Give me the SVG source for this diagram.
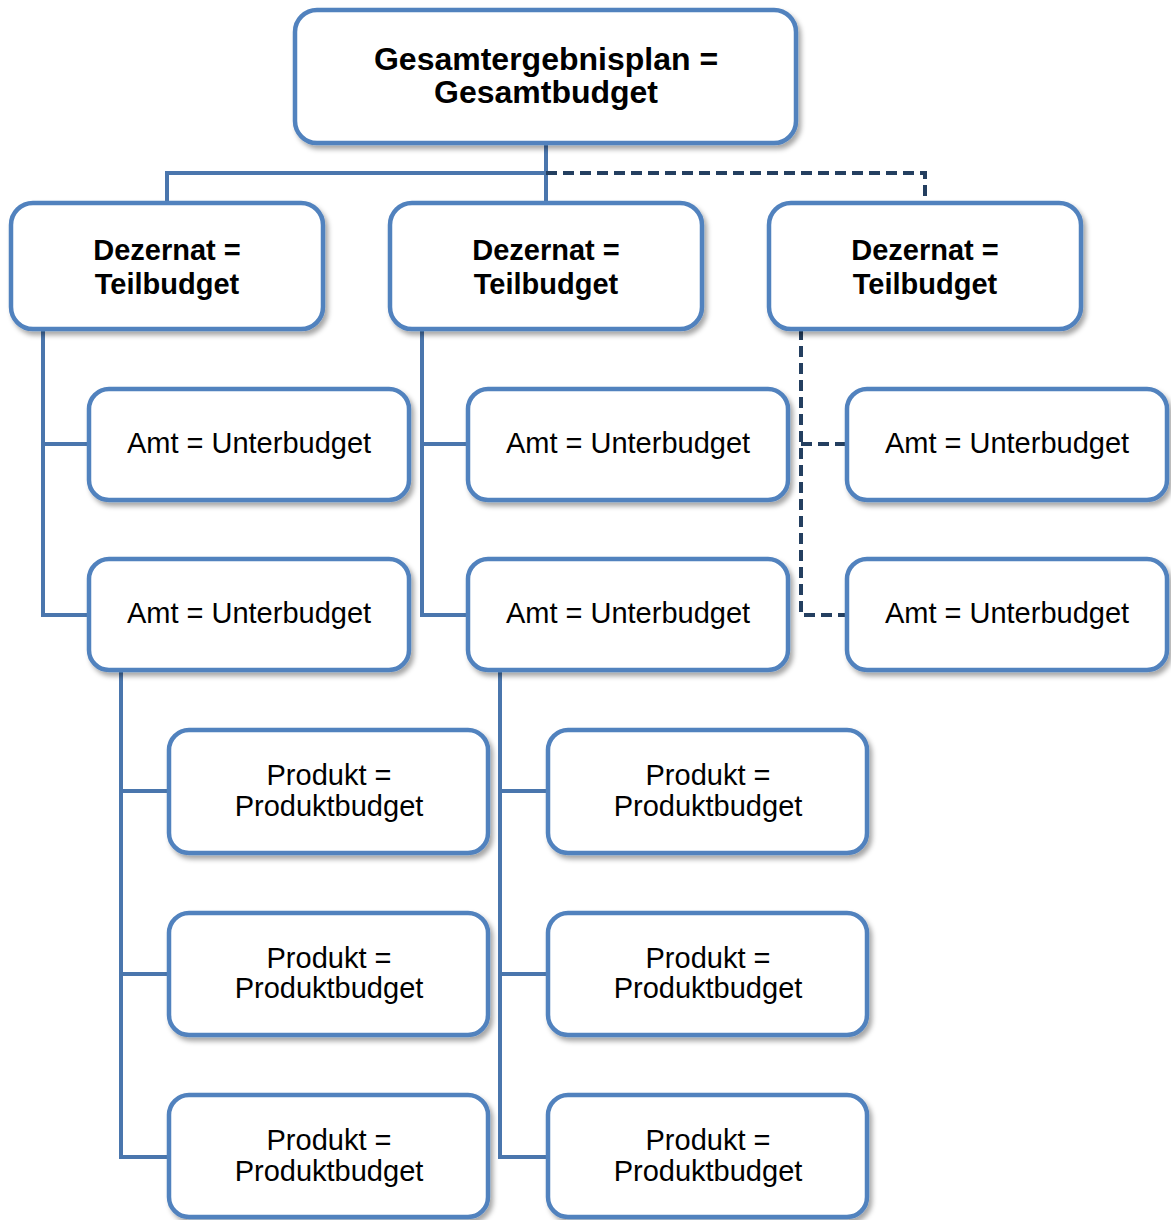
<svg xmlns="http://www.w3.org/2000/svg" width="1171" height="1220" viewBox="0 0 1171 1220">
<defs>
<filter id="sh" x="-10%" y="-10%" width="130%" height="140%">
<feDropShadow dx="3" dy="4" stdDeviation="2.5" flood-color="#000" flood-opacity="0.35"/>
</filter>
</defs>
<style>
.box{fill:#fff;stroke:#5182BE;stroke-width:4.5;filter:url(#sh)}
.t{font-family:"Liberation Sans",Arial,sans-serif;font-size:29px;fill:#000;text-anchor:middle}
.b{font-weight:bold}
.top{font-size:32px}
.ln{fill:none;stroke:#4A76AD;stroke-width:4}
.dl{fill:none;stroke:#243F60;stroke-width:4;stroke-dasharray:11,6}
</style>
<rect width="1171" height="1220" fill="#fff"/>
<g id="connectors">
<path class="ln" d="M546,143 V203 M167,203 V173 H546"/>
<path class="dl" d="M546,173 H925 V203"/>
<path class="ln" d="M43,329 V615 H89 M43,444 H89"/>
<path class="ln" d="M422,329 V615 H468 M422,444 H468"/>
<path class="dl" d="M801,329 V615 H847 M801,444 H847"/>
<path class="ln" d="M121,670 V1157 H169 M121,791 H169 M121,974 H169"/>
<path class="ln" d="M500,670 V1157 H548 M500,791 H548 M500,974 H548"/>
</g>
<g id="n-top"><rect class="box" x="295" y="10" width="501" height="133" rx="22"/><text class="t b top" x="546" y="70">Gesamtergebnisplan =</text><text class="t b top" x="546" y="103">Gesamtbudget</text></g>
<g id="n-dez1"><rect class="box" x="11" y="203" width="312" height="126" rx="22"/><text class="t b" x="167" y="260">Dezernat =</text><text class="t b" x="167" y="294">Teilbudget</text></g>
<g id="n-dez2"><rect class="box" x="390" y="203" width="312" height="126" rx="22"/><text class="t b" x="546" y="260">Dezernat =</text><text class="t b" x="546" y="294">Teilbudget</text></g>
<g id="n-dez3"><rect class="box" x="769" y="203" width="312" height="126" rx="22"/><text class="t b" x="925" y="260">Dezernat =</text><text class="t b" x="925" y="294">Teilbudget</text></g>
<g id="n-amt11"><rect class="box" x="89" y="389" width="320" height="111" rx="20"/><text class="t" x="249" y="453">Amt = Unterbudget</text></g>
<g id="n-amt12"><rect class="box" x="89" y="559" width="320" height="111" rx="20"/><text class="t" x="249" y="623">Amt = Unterbudget</text></g>
<g id="n-amt21"><rect class="box" x="468" y="389" width="320" height="111" rx="20"/><text class="t" x="628" y="453">Amt = Unterbudget</text></g>
<g id="n-amt22"><rect class="box" x="468" y="559" width="320" height="111" rx="20"/><text class="t" x="628" y="623">Amt = Unterbudget</text></g>
<g id="n-amt31"><rect class="box" x="847" y="389" width="320" height="111" rx="20"/><text class="t" x="1007" y="453">Amt = Unterbudget</text></g>
<g id="n-amt32"><rect class="box" x="847" y="559" width="320" height="111" rx="20"/><text class="t" x="1007" y="623">Amt = Unterbudget</text></g>
<g id="n-p11"><rect class="box" x="169" y="730" width="319" height="123" rx="20"/><text class="t" x="329" y="785">Produkt =</text><text class="t" x="329" y="816">Produktbudget</text></g>
<g id="n-p12"><rect class="box" x="169" y="913" width="319" height="122" rx="20"/><text class="t" x="329" y="968">Produkt =</text><text class="t" x="329" y="998">Produktbudget</text></g>
<g id="n-p13"><rect class="box" x="169" y="1095" width="319" height="122" rx="20"/><text class="t" x="329" y="1150">Produkt =</text><text class="t" x="329" y="1181">Produktbudget</text></g>
<g id="n-p21"><rect class="box" x="548" y="730" width="319" height="123" rx="20"/><text class="t" x="708" y="785">Produkt =</text><text class="t" x="708" y="816">Produktbudget</text></g>
<g id="n-p22"><rect class="box" x="548" y="913" width="319" height="122" rx="20"/><text class="t" x="708" y="968">Produkt =</text><text class="t" x="708" y="998">Produktbudget</text></g>
<g id="n-p23"><rect class="box" x="548" y="1095" width="319" height="122" rx="20"/><text class="t" x="708" y="1150">Produkt =</text><text class="t" x="708" y="1181">Produktbudget</text></g>
</svg>
